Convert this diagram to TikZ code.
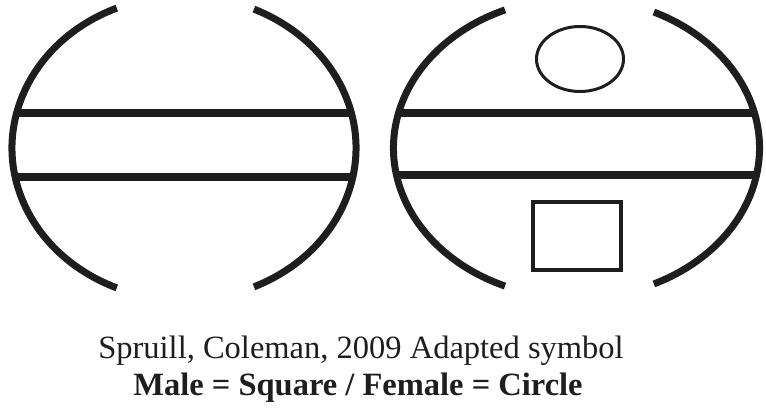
\documentclass[tikz,border=0pt]{standalone}
\usepackage{fontspec}
\setmainfont{Liberation Serif}
\usepackage{tikz}
\usetikzlibrary{calc}
\definecolor{inkdark}{RGB}{30,30,30}
\tikzset{
  symarc/.style={draw=inkdark, line width=7pt},
  symband/.style={draw=inkdark, line width=8pt},
  symfemale/.style={draw=inkdark, line width=3pt},
  symmale/.style={draw=inkdark, line width=4pt},
  symcaption/.style={anchor=base, inner sep=0pt, text=inkdark, font=\fontsize{32.5}{38}\selectfont}
}
\begin{document}
\begin{tikzpicture}[x=1pt, y=1pt]
\useasboundingbox (0,0) rectangle (766,410);
\coordinate (lc) at (184,262);
\coordinate (rc) at (576.5,262);

% left symbol
\draw[symarc] ($(lc)+(113:172 and 152)$) arc[start angle=113, end angle=247, x radius=172, y radius=152];
\draw[symarc] ($(lc)+(-66:172 and 152)$) arc[start angle=-66, end angle=66, x radius=172, y radius=152];
\begin{scope}
  \clip (lc) ellipse [x radius=172, y radius=152];
  \draw[symband] ($(lc)+(-190,35)$) -- ($(lc)+(190,35)$);
  \draw[symband] ($(lc)+(-190,-29)$) -- ($(lc)+(190,-29)$);
\end{scope}

% right symbol
\draw[symarc] ($(rc)+(113:183 and 150)$) arc[start angle=113, end angle=247, x radius=183, y radius=150];
\draw[symarc] ($(rc)+(-65:183 and 150)$) arc[start angle=-65, end angle=65, x radius=183, y radius=150];
\begin{scope}
  \clip (rc) ellipse [x radius=183, y radius=150];
  \draw[symband] ($(rc)+(-200,35)$) -- ($(rc)+(200,35)$);
  \draw[symband] ($(rc)+(-200,-27)$) -- ($(rc)+(200,-27)$);
\end{scope}
\draw[symfemale] (580,351) ellipse [x radius=43.5, y radius=32.5];
\draw[symmale] (533,140) rectangle (621,208);

% caption
\node[symcaption] (source) at (361,52) {Spruill, Coleman, 2009 Adapted symbol};
\node[symcaption, font=\fontsize{32.5}{38}\selectfont\bfseries] (legend) at (358,15) {Male = Square / Female = Circle};
\end{tikzpicture}
\end{document}
